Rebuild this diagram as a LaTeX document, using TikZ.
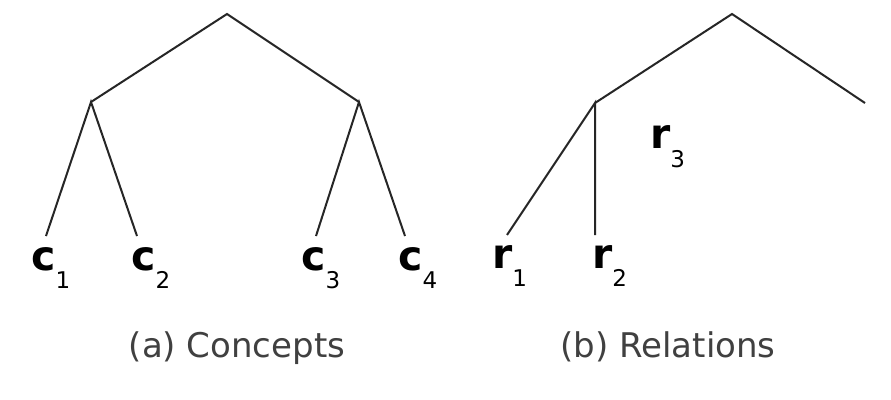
\documentclass[tikz,border=0pt]{standalone}
\usepackage{fontspec}
\setmainfont{DejaVu Sans}
\begin{document}
\begin{tikzpicture}[x=1pt,y=-1pt,
  edge/.style={line width=2pt,draw=black!85},
  lab/.style={anchor=base west,inner sep=0pt,font=\fontsize{41}{41}\selectfont\bfseries},
  captxt/.style={anchor=base,inner sep=0pt,text=black!75,font=\fontsize{34}{34}\selectfont}]
\fill[white] (0,0) rectangle (891,399);
\useasboundingbox (0,0) rectangle (891,399);
% (a) concepts
\coordinate (ra) at (227,14);
\coordinate (na) at (91,102);
\coordinate (nb) at (359,102);
\coordinate (e1) at (46,236);
\coordinate (e2) at (137,236);
\coordinate (e3) at (316,236);
\coordinate (e4) at (405,236);
\draw[edge] (na) -- (ra) -- (nb);
\draw[edge] (e1) -- (na) -- (e2);
\draw[edge] (e3) -- (nb) -- (e4);
\node[lab] (c1) at (31,270) {c\raisebox{-18pt}{\fontsize{23}{23}\selectfont\mdseries 1}};
\node[lab] (c2) at (131,270) {c\raisebox{-18pt}{\fontsize{23}{23}\selectfont\mdseries 2}};
\node[lab] (c3) at (301,270) {c\raisebox{-18pt}{\fontsize{23}{23}\selectfont\mdseries 3}};
\node[lab] (c4) at (398,270) {c\raisebox{-18pt}{\fontsize{23}{23}\selectfont\mdseries 4}};
\node[captxt] (capa) at (237,357) {(a) Concepts};
% (b) relations
\coordinate (rb) at (732,14);
\coordinate (nr) at (595,103);
\coordinate (er) at (865,103);
\coordinate (f1) at (507,235);
\coordinate (f2) at (595,235);
\draw[edge] (nr) -- (rb) -- (er);
\draw[edge] (f1) -- (nr) -- (f2);
\node[lab] (r1) at (492,268) {r\raisebox{-18pt}{\fontsize{23}{23}\selectfont\mdseries 1}};
\node[lab] (r2) at (592,268) {r\raisebox{-18pt}{\fontsize{23}{23}\selectfont\mdseries 2}};
\node[lab] (r3) at (650,148) {r\raisebox{-19pt}{\fontsize{23}{23}\selectfont\mdseries 3}};
\node[captxt] (capb) at (668,357) {(b) Relations};
\end{tikzpicture}
\end{document}
